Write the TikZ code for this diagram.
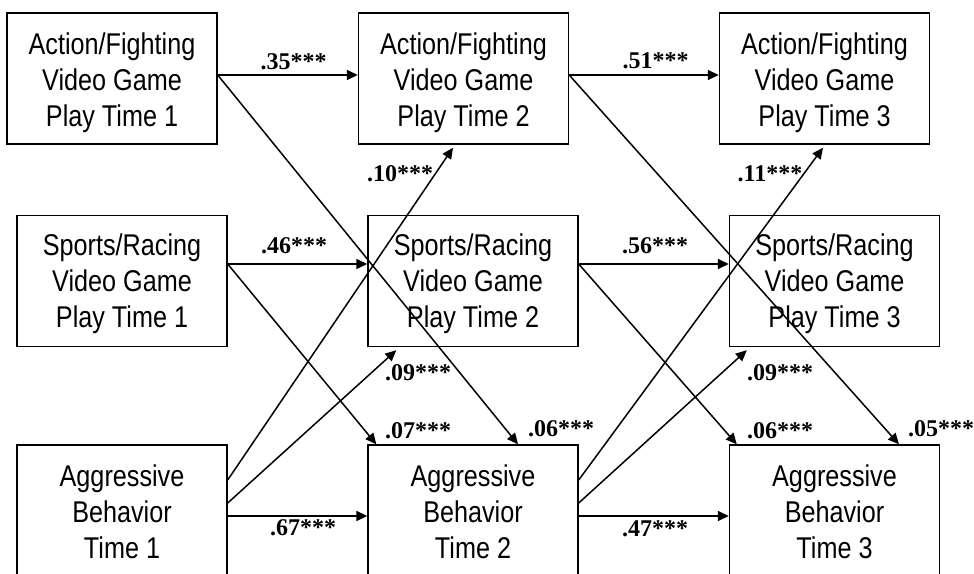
\documentclass[tikz,border=0pt]{standalone}
\usepackage{fontspec}
\setmainfont{Liberation Sans}
\newfontfamily\boxfont[FakeStretch=0.84]{Liberation Sans}
\newfontfamily\labfont{Liberation Serif}
\usetikzlibrary{arrows.meta}
\begin{document}
\begin{tikzpicture}[x=1pt,y=-1pt,
  varbox/.style={draw, line width=1.4pt, minimum width=210pt, minimum height=131pt, inner sep=0pt},
  vartext/.style={inner sep=0pt, align=center, font=\boxfont\fontsize{30}{36}\selectfont},
  path/.style={line width=1.5pt, -{Triangle[length=11pt,width=10pt]}},
  coef/.style={anchor=base, inner sep=0pt, font=\labfont\bfseries\fontsize{24}{26}\selectfont}]
\useasboundingbox (0,0) rectangle (974,573);
\clip (0,0) rectangle (974,573);

% variables, three waves
\node[varbox] (A1) at (112,78.5)    {};
\node[varbox] (A2) at (463.5,78.5)  {};
\node[varbox] (A3) at (824.5,78.5)  {};
\node[varbox] (S1) at (122,281)     {};
\node[varbox] (S2) at (473,281)     {};
\node[varbox] (S3) at (834.5,281)   {};
\node[varbox] (B1) at (122,510.5)   {};
\node[varbox] (B2) at (473,510.5)   {};
\node[varbox] (B3) at (834.5,510.5) {};

\node[vartext] (A1t) at ([yshift=-4.5pt]A1.center) {Action/Fighting\\Video Game\\Play Time 1};
\node[vartext] (A2t) at ([yshift=-4.5pt]A2.center) {Action/Fighting\\Video Game\\Play Time 2};
\node[vartext] (A3t) at ([yshift=-4.5pt]A3.center) {Action/Fighting\\Video Game\\Play Time 3};
\node[vartext] (S1t) at ([yshift=-2.5pt]S1.center) {Sports/Racing\\Video Game\\Play Time 1};
\node[vartext] (S2t) at ([yshift=-2.5pt]S2.center) {Sports/Racing\\Video Game\\Play Time 2};
\node[vartext] (S3t) at ([yshift=-2.5pt]S3.center) {Sports/Racing\\Video Game\\Play Time 3};
\node[vartext] (B1t) at ([yshift=-1pt]B1.center) {Aggressive\\Behavior\\Time 1};
\node[vartext] (B2t) at ([yshift=-1pt]B2.center) {Aggressive\\Behavior\\Time 2};
\node[vartext] (B3t) at ([yshift=-1pt]B3.center) {Aggressive\\Behavior\\Time 3};

% stability paths
\draw[path] ([yshift=3.5pt]A1.east) -- ([yshift=3.5pt]A2.west);
\draw[path] ([yshift=3.5pt]A2.east) -- ([yshift=3.5pt]A3.west);
\draw[path] ([yshift=17pt]S1.east) -- ([yshift=17pt]S2.west);
\draw[path] ([yshift=17pt]S2.east) -- ([yshift=17pt]S3.west);
\draw[path] ([yshift=-5.5pt]B1.east) -- ([yshift=-5.5pt]B2.west);
\draw[path] ([yshift=-5.5pt]B2.east) -- ([yshift=-5.5pt]B3.west);

% game play -> later aggression
\draw[path] ([yshift=3.5pt]A1.east) -- ([xshift=45pt]B2.north);
\draw[path] ([yshift=3.5pt]A2.east) -- ([xshift=64.5pt]B3.north);
\draw[path] ([yshift=17pt]S1.east) -- ([xshift=9pt]B2.north west);
\draw[path] ([yshift=17pt]S2.east) -- ([xshift=8pt]B3.north west);

% aggression -> later game play
\draw[path] ([yshift=30.5pt]B1.east) -- ([xshift=-10.5pt,yshift=-3pt]A2.south);
\draw[path] ([yshift=7.5pt]B1.east) -- ([xshift=29pt,yshift=-3pt]S2.south west);
\draw[path] ([yshift=30.5pt]B2.east) -- ([xshift=-1.5pt,yshift=-3pt]A3.south);
\draw[path] ([yshift=7.5pt]B2.east) -- ([xshift=18pt,yshift=-3pt]S3.south west);

% path coefficients
\node[coef] (c1)  at (293.5,69)  {.35***};
\node[coef] (c2)  at (655.5,68)  {.51***};
\node[coef] (c3)  at (400,181)   {.10***};
\node[coef] (c4)  at (770,181)   {.11***};
\node[coef] (c5)  at (294,253)   {.46***};
\node[coef] (c6)  at (655,253)   {.56***};
\node[coef] (c7)  at (418,380)   {.09***};
\node[coef] (c8)  at (780,380)   {.09***};
\node[coef] (c9)  at (418,438)   {.07***};
\node[coef] (c10) at (561,436)   {.06***};
\node[coef] (c11) at (780,438)   {.06***};
\node[coef] (c12) at (941,436)   {.05***};
\node[coef] (c13) at (303,535)   {.67***};
\node[coef] (c14) at (655,536)   {.47***};
\end{tikzpicture}
\end{document}
